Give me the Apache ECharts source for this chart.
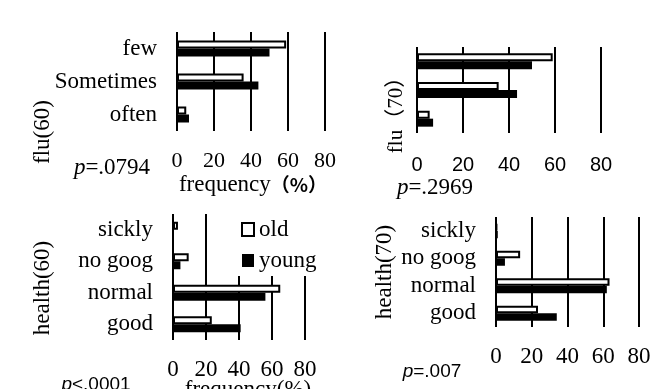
<!DOCTYPE html>
<html>
<head>
<meta charset="utf-8">
<script src="https://cdn.jsdelivr.net/npm/echarts@6/dist/echarts.min.js"></script>
<style>
  html, body { margin: 0; padding: 0; background: #fff; }
  #main { width: 659px; height: 389px; }
</style>
</head>
<body>
<div id="main"></div>
<script>
// values (frequency, %)
var fluCats = ['few', 'Sometimes', 'often'];
var flu60Old = [59, 36, 5];
var flu60Young = [50, 44, 6.5];
var flu70Old = [59, 35.5, 5.5];
var flu70Young = [50, 43.5, 7];

var healthCats = ['sickly', 'no goog', 'normal', 'good'];
var health60Old = [3, 9.5, 65, 23.5];
var health60Young = [0, 4.5, 56, 41];
var health70Old = [0.5, 13.5, 63.5, 23.5];
var health70Young = [1, 5, 62, 34];

var xMin = 0, xMax = 80, xStep = 20;

var serif = 'Liberation Serif';
var sans = 'Liberation Sans';

function xAx(grid, margin, family, size) {
    return {
        type: 'value', gridIndex: grid, min: xMin, max: xMax, interval: xStep,
        axisLine: { show: false }, axisTick: { show: false },
        axisLabel: { margin: margin, color: '#000', fontFamily: family, fontSize: size },
        splitLine: { show: true, lineStyle: { color: '#000', width: 2 } }
    };
}
function yAx(grid, cats, showLabel) {
    return {
        type: 'category', gridIndex: grid, data: cats, inverse: true,
        axisLine: { show: false }, axisTick: { show: false },
        axisLabel: { show: showLabel, interval: 0, margin: 20, color: '#000', fontFamily: serif, fontSize: 23 }
    };
}
function bars(name, idx, data, w) {
    var old = name === 'old';
    return {
        name: name, type: 'bar', xAxisIndex: idx, yAxisIndex: idx, data: data,
        barWidth: w, barGap: '0%', animation: false,
        itemStyle: old ? { color: '#fff', borderColor: '#000', borderWidth: 2 } : { color: '#000' }
    };
}
function label(x, y, text, font, rot, rich) {
    var el = {
        type: 'text', x: x, y: y, rotation: rot || 0,
        style: { text: text, font: font, fill: '#000', align: 'center', verticalAlign: 'middle' }
    };
    if (rich) el.style.rich = rich;
    return el;
}

var chart = echarts.init(document.getElementById('main'));
chart.setOption({
    backgroundColor: '#fff',
    animation: false,
    grid: [
        { left: 177, top: 32, width: 148, height: 99 },
        { left: 417, top: 47, width: 184, height: 86 },
        { left: 173, top: 214, width: 132, height: 126 },
        { left: 496, top: 217, width: 143, height: 110 }
    ],
    xAxis: [
        xAx(0, 19, serif, 22),
        xAx(1, 22, sans, 20),
        xAx(2, 18, serif, 23),
        xAx(3, 18, serif, 23)
    ],
    yAxis: [
        yAx(0, fluCats, true),
        yAx(1, fluCats, false),
        yAx(2, healthCats, true),
        yAx(3, healthCats, true)
    ],
    legend: {
        orient: 'vertical', left: 237, top: 213, itemGap: 8,
        padding: [5, 2, 4, 4], backgroundColor: '#fff',
        itemWidth: 12, itemHeight: 13, icon: 'rect',
        textStyle: { fontFamily: serif, fontSize: 23, color: '#000' },
        data: [
            { name: 'old', itemStyle: { color: '#fff', borderColor: '#000', borderWidth: 2 } },
            { name: 'young', itemStyle: { color: '#000' } }
        ]
    },
    series: [
        bars('old', 0, flu60Old, 8), bars('young', 0, flu60Young, 8),
        bars('old', 1, flu70Old, 8), bars('young', 1, flu70Young, 8),
        bars('old', 2, health60Old, 8), bars('young', 2, health60Young, 8),
        bars('old', 3, health70Old, 7.5), bars('young', 3, health70Young, 7.5)
    ],
    graphic: [
        label(43, 132, 'flu(60)', '23px ' + serif, Math.PI / 2),
        label(396, 110, 'flu（70）', '21px ' + serif + ', "Noto Sans CJK SC"', Math.PI / 2),
        label(43, 288, 'health(60)', '23px ' + serif, Math.PI / 2),
        label(385, 272, 'health(70)', '23px ' + serif, Math.PI / 2),
        label(112, 168, '{i|p}=.0794', '23px ' + serif, 0,
            { i: { fontStyle: 'italic', fontFamily: serif, fontSize: 23 } }),
        label(435, 188, '{i|p}=.2969', '23px ' + serif, 0,
            { i: { fontStyle: 'italic', fontFamily: serif, fontSize: 23 } }),
        label(96, 385, '{i|p}<.0001', '19px ' + sans, 0,
            { i: { fontStyle: 'italic', fontFamily: sans, fontSize: 19 } }),
        label(432, 372, '{i|p}=.007', '19px ' + sans, 0,
            { i: { fontStyle: 'italic', fontFamily: sans, fontSize: 19 } }),
        label(253, 185, 'frequency{b|（%）}', '23px ' + serif, 0,
            { b: { fontFamily: 'Noto Sans CJK SC', fontWeight: 'bold', fontSize: 19 } }),
        label(248, 390, 'frequency(%)', '23px ' + serif, 0)
    ]
});
</script>
</body>
</html>
